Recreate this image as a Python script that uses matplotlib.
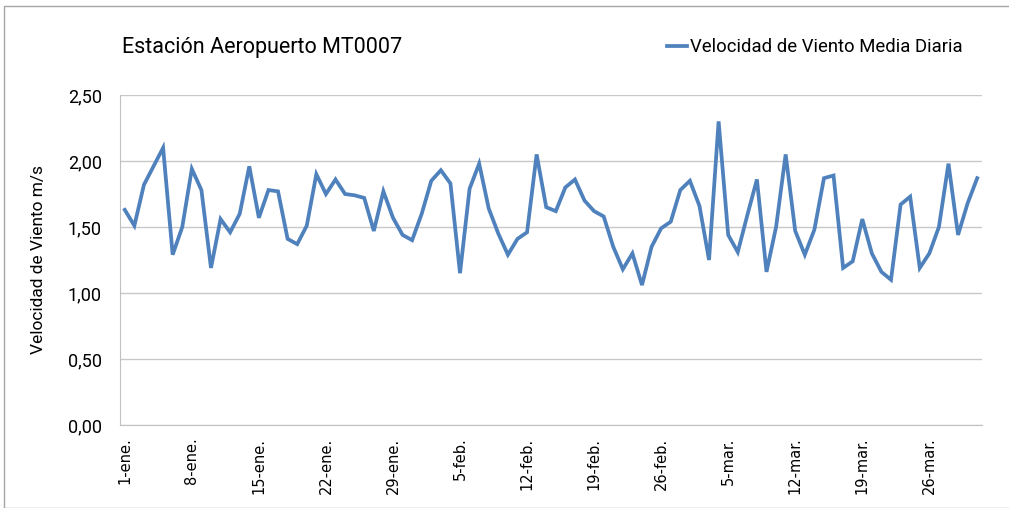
import matplotlib
matplotlib.use("Agg")
import matplotlib.pyplot as plt
from matplotlib.patches import Rectangle

# daily mean wind speed, 1-ene .. 31-mar
dias = list(range(1, 91))
velocidad = [
    1.63, 1.51, 1.82, 1.96, 2.10, 1.29, 1.50, 1.94, 1.78, 1.19,
    1.56, 1.46, 1.60, 1.96, 1.57, 1.78, 1.77, 1.41, 1.37, 1.51,
    1.90, 1.75, 1.86, 1.75, 1.74, 1.72, 1.47, 1.77, 1.57, 1.44,
    1.40, 1.60, 1.85, 1.93, 1.83, 1.15, 1.79, 1.98, 1.64, 1.45,
    1.29, 1.41, 1.46, 2.05, 1.65, 1.62, 1.80, 1.86, 1.70, 1.62,
    1.58, 1.35, 1.18, 1.30, 1.06, 1.35, 1.49, 1.54, 1.78, 1.85,
    1.66, 1.25, 2.30, 1.44, 1.31, 1.59, 1.86, 1.16, 1.50, 2.05,
    1.47, 1.29, 1.48, 1.87, 1.89, 1.19, 1.24, 1.56, 1.30, 1.16,
    1.10, 1.67, 1.73, 1.19, 1.30, 1.50, 1.98, 1.44, 1.68, 1.87,
]
tick_dias = [1, 8, 15, 22, 29, 36, 43, 50, 57, 64, 71, 78, 85]
tick_labels = ["1-ene.", "8-ene.", "15-ene.", "22-ene.", "29-ene.", "5-feb.",
               "12-feb.", "19-feb.", "26-feb.", "5-mar.", "12-mar.", "19-mar.",
               "26-mar."]
y_ticks = [0.0, 0.5, 1.0, 1.5, 2.0, 2.5]

NARROW = ["Liberation Sans Narrow", "Roboto", "DejaVu Sans"]
W, H = 1009, 508
fig = plt.figure(figsize=(W / 100, H / 100), dpi=100)

# chart frame
fig.patches.append(Rectangle((4 / W, 0), 1, 1 - 6 / H, transform=fig.transFigure,
                             fill=False, edgecolor="#a6a6a6", lw=1.0))

left, right, top, bottom = 120, 982, 95, 425
ax = fig.add_axes([left / W, 1 - bottom / H, (right - left) / W, (bottom - top) / H])

ax.plot(dias, velocidad, color="#4f81bd", lw=2.7, solid_joinstyle="miter",
        label="Velocidad de Viento Media Diaria")

ax.set_xlim(0.5, 90.5)
ax.set_ylim(0, 2.5)
ax.set_yticks(y_ticks)
ax.set_yticklabels([f"{v:.2f}".replace(".", ",") for v in y_ticks],
                   fontsize=13, family=NARROW)
ax.set_xticks(tick_dias)
ax.set_xticklabels(tick_labels, rotation=90, fontsize=10.5, family="DejaVu Sans")
ax.tick_params(axis="y", length=0, pad=13)
ax.tick_params(axis="x", length=0, pad=9)
ax.grid(axis="y", color="#c8c8c8", lw=1.0)
ax.set_axisbelow(True)
for s in ["top", "right"]:
    ax.spines[s].set_visible(False)
for s in ["left", "bottom"]:
    ax.spines[s].set_color("#c0c0c0")

ax.set_ylabel("Velocidad de Viento m/s", fontsize=12.5, family=NARROW, labelpad=16)

fig.text(122 / W, 1 - 47 / H, "Estación Aeropuerto MT0007", fontsize=15.5,
         family=NARROW, va="center", ha="left")
ax.legend(loc="center right", bbox_to_anchor=(972 / W, 1 - 47 / H),
          bbox_transform=fig.transFigure, frameon=False, handlelength=1.1,
          handletextpad=0.15, borderpad=0, prop={"family": NARROW, "size": 13.3})

fig.savefig("out.png", dpi=100)
